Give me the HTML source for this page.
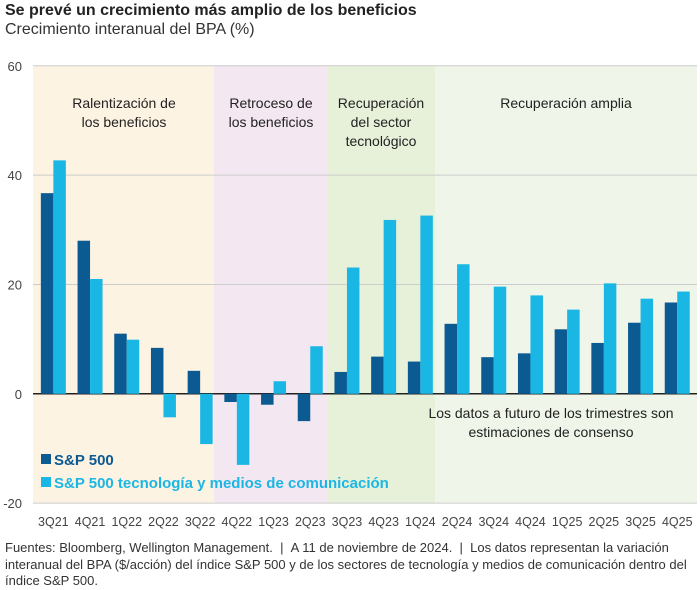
<!DOCTYPE html>
<html><head><meta charset="utf-8"><style>
body{margin:0;background:#fff;font-family:"Liberation Sans",sans-serif;}
#wrap{position:relative;width:700px;height:590px;overflow:hidden;}
.t{position:absolute;left:5px;top:2px;font-size:16px;font-weight:bold;color:#222;}
.s{position:absolute;left:5px;top:21px;font-size:16px;color:#333;}
.f{position:absolute;left:5px;top:540px;width:688px;font-size:13px;color:#333;line-height:16.5px;}
</style></head><body>
<div id="wrap">
<div class="t">Se prevé un crecimiento más amplio de los beneficios</div>
<div class="s">Crecimiento interanual del BPA (%)</div>
<svg id="chart" width="700" height="540" style="position:absolute;left:0;top:0"></svg>
<div class="f">Fuentes: Bloomberg, Wellington Management. &nbsp;| &nbsp;A 11 de noviembre de 2024. &nbsp;| &nbsp;Los datos representan la variación interanual del BPA ($/acción) del índice S&amp;P 500 y de los sectores de tecnología y medios de comunicación dentro del índice S&amp;P 500.</div>
</div>
<script>
const categories=["3Q21","4Q21","1Q22","2Q22","3Q22","4Q22","1Q23","2Q23","3Q23","4Q23","1Q24","2Q24","3Q24","4Q24","1Q25","2Q25","3Q25","4Q25"];
const sp500=[36.7,28,11,8.4,4.2,-1.5,-2,-5,4,6.8,5.9,12.8,6.7,7.4,11.8,9.3,13,16.7];
const tech=[42.7,21,9.9,-4.3,-9.2,-13,2.3,8.7,23.1,31.8,32.6,23.7,19.6,18,15.4,20.2,17.4,18.7];
const yTicks=[60,40,20,0,-20];
const svg=document.getElementById('chart');
const NS='http://www.w3.org/2000/svg';
const x0=35,step=36.7,bw=12.5;
function y(v){return 393.8-v*5.467;}
function xc(i){return x0+step*(i+0.5);}
function el(tag,attrs,name){const e=document.createElementNS(NS,tag);for(const k in attrs)e.setAttribute(k,attrs[k]);


svg.appendChild(e);return e;}
const regions=[[33,214,'#fdf3e2','region-slowdown'],[214,327,'#f3e7f1','region-decline'],[327,435,'#e7f1d9','region-tech-recovery'],[435,697,'#eff5e8','region-broad-recovery']];
regions.forEach(r=>el('rect',{x:r[0],y:y(60),width:r[1]-r[0],height:y(-20)-y(60),fill:r[2]},r[3]));
yTicks.forEach(t=>{
 el('line',{x1:33,x2:697,y1:y(t),y2:y(t),stroke:t===0?'#222':'#ccc','stroke-width':t===0?1.5:1},'gridline');
 const tx=el('text',{x:22,y:y(t)+5,'text-anchor':'end','font-size':13,fill:'#444'},'y-tick-label');tx.textContent=t;
});
categories.forEach((c,i)=>{
 const a=sp500[i],b=tech[i];
 el('rect',{x:xc(i)-bw,y:Math.min(y(a),y(0)),width:bw,height:Math.abs(y(a)-y(0)),fill:'#0b5a92'},'bar-sp500');
 el('rect',{x:xc(i),y:Math.min(y(b),y(0)),width:bw,height:Math.abs(y(b)-y(0)),fill:'#1bb7e4'},'bar-tech');
 const tx=el('text',{x:xc(i),y:526,'text-anchor':'middle','font-size':12.5,fill:'#444'},'x-tick-label');tx.textContent=c;
});
const lbls=[[124,['Ralentización de','los beneficios']],[271,['Retroceso de','los beneficios']],[381,['Recuperación','del sector','tecnológico']],[566,['Recuperación amplia']],[551,['','','','','','','','','','','','','','','','','Los datos a futuro de los trimestres son','estimaciones de consenso']]];
lbls.forEach(l=>l[1].forEach((s,j)=>{if(!s)return;const tx=el('text',{x:l[0],y:(j<10?108+j*19:418+(j-16)*19),'text-anchor':'middle','font-size':14,fill:'#222'},'region-label');tx.textContent=s;}));
el('rect',{x:41,y:454,width:10,height:10,fill:'#0b5a92'},'legend-swatch-sp500');
let t1=el('text',{x:54,y:465,'font-size':15,'font-weight':'bold',fill:'#0b5a92'},'legend-sp500');t1.textContent='S&P 500';
el('rect',{x:41,y:477,width:10,height:10,fill:'#1bb7e4'},'legend-swatch-tech');
let t2=el('text',{x:54,y:488,'font-size':15,'font-weight':'bold',fill:'#1bb7e4'},'legend-tech');t2.textContent='S&P 500 tecnología y medios de comunicación';
</script>
</body></html>
